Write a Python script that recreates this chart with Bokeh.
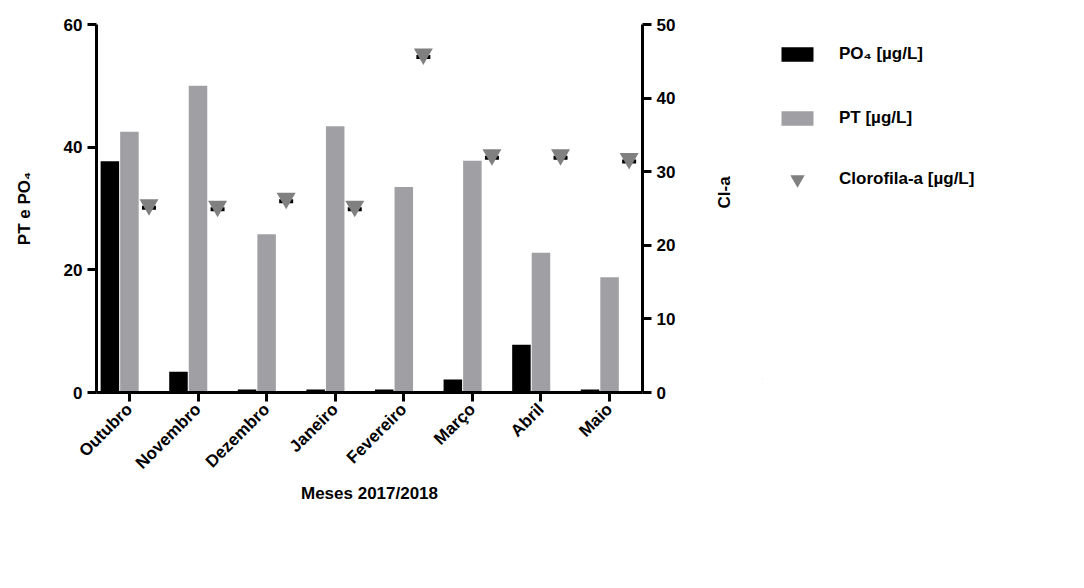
import math
from bokeh.plotting import figure
from bokeh.layouts import row
from bokeh.models import (LinearAxis, Range1d, FixedTicker, Legend, LegendItem,
                          ColumnDataSource, Whisker)
from bokeh.transform import dodge
from bokeh.embed import file_html
from bokeh.resources import INLINE

months = ["Outubro", "Novembro", "Dezembro", "Janeiro", "Fevereiro", "Março", "Abril", "Maio"]
po4 = [37.7, 3.4, 0.5, 0.5, 0.5, 2.1, 7.8, 0.5]
pt = [42.5, 50.0, 25.8, 43.4, 33.5, 37.8, 22.8, 18.8]
cla = [25.5, 25.3, 26.4, 25.3, 46.0, 32.3, 32.3, 31.8]
cla_err = [0.4, 0.4, 0.4, 0.4, 0.4, 0.4, 0.4, 0.4]
left_ticks = [0, 20, 40, 60]
right_ticks = [0, 10, 20, 30, 40, 50]
legend_labels = ["PO₄ [µg/L]", "PT [µg/L]", "Clorofila-a [µg/L]"]

idx = list(range(len(months)))
off = 0.285
src = ColumnDataSource(dict(
    x=idx, po4=po4, pt=pt, cla=cla,
    xc=[i + off for i in idx],
    lo=[c - e for c, e in zip(cla, cla_err)],
    hi=[c + e for c, e in zip(cla, cla_err)],
))

FONT = "Liberation Sans"
BLACK = "#000000"
GRAY_BAR = "#A0A0A4"
GRAY_TRI = "#808080"

p = figure(frame_width=546, frame_height=368,
           x_range=Range1d(-0.48, 7.48), y_range=Range1d(0, 60),
           output_backend="svg", toolbar_location=None,
           min_border_left=96, min_border_top=24, min_border_right=120,
           min_border_bottom=100)
p.extra_y_ranges = {"cl": Range1d(0, 50)}
p.outline_line_color = None
p.grid.visible = False

bw = 0.27
p.vbar(x=dodge("x", -off, range=p.x_range), top="po4", width=bw, source=src,
       fill_color=BLACK, line_color=None)
p.vbar(x="x", top="pt", width=bw, source=src,
       fill_color=GRAY_BAR, line_color=None)
wh = Whisker(base="xc", lower="lo", upper="hi", source=src, y_range_name="cl",
             line_color=BLACK, line_width=3, upper_head=None)
wh.lower_head.line_color = BLACK
wh.lower_head.line_width = 4
wh.lower_head.size = 14
p.add_layout(wh)
p.scatter(x="xc", y="cla", source=src, marker="inverted_triangle", size=19,
          fill_color=GRAY_TRI, line_color=None, y_range_name="cl")


def style_axis(ax):
    ax.axis_line_width = 3
    ax.axis_line_color = BLACK
    ax.major_tick_line_width = 3
    ax.major_tick_line_color = BLACK
    ax.major_tick_out = 9
    ax.major_tick_in = 0
    ax.minor_tick_line_color = None
    ax.major_label_text_font = FONT
    ax.major_label_text_font_style = "bold"
    ax.major_label_text_font_size = "17px"
    ax.major_label_text_color = BLACK
    ax.axis_label_text_font = FONT
    ax.axis_label_text_font_style = "bold"
    ax.axis_label_text_font_size = "17px"
    ax.axis_label_text_color = BLACK


xa = p.xaxis[0]
style_axis(xa)
xa.ticker = FixedTicker(ticks=idx)
xa.major_label_overrides = {i: m for i, m in zip(idx, months)}
xa.major_label_orientation = math.pi / 4
xa.axis_label = "Meses 2017/2018"
xa.axis_label_standoff = 2

ya = p.yaxis[0]
style_axis(ya)
ya.ticker = FixedTicker(ticks=left_ticks)
ya.axis_label = "PT e PO₄"
ya.axis_label_standoff = 27

ra = LinearAxis(y_range_name="cl", ticker=FixedTicker(ticks=right_ticks), axis_label="Cl-a")
style_axis(ra)
ra.axis_label_standoff = 46
try:
    ra.axis_label_orientation = -1.5 * math.pi
except Exception:
    pass
p.add_layout(ra, "right")

# legend panel: a separate figure holding only the legend
p2 = figure(width=300, height=492, x_range=Range1d(0, 1), y_range=Range1d(0, 1),
            output_backend="svg", toolbar_location=None,
            x_axis_type=None, y_axis_type=None,
            min_border_left=0, min_border_right=0, min_border_top=0, min_border_bottom=0)
p2.outline_line_color = None
p2.grid.visible = False
# legend-only renderers, one point each, placed outside the visible range
lr_po4 = p2.vbar(x=[-10], top=[-10], width=0.1, fill_color=BLACK, line_color=None)
lr_pt = p2.vbar(x=[-10], top=[-10], width=0.1, fill_color=GRAY_BAR, line_color=None)
lr_cl = p2.scatter(x=[-10], y=[-10], marker="inverted_triangle", size=19,
                   fill_color=GRAY_TRI, line_color=None)


def style_legend(lg, gh):
    lg.glyph_width = 40
    lg.glyph_height = gh
    lg.label_height = gh
    lg.padding = 0
    lg.margin = 0
    lg.label_standoff = 22
    lg.border_line_color = None
    lg.background_fill_alpha = 0
    lg.label_text_font = FONT
    lg.label_text_font_style = "bold"
    lg.label_text_font_size = "17px"
    lg.label_text_color = BLACK


legend_a = Legend(items=[
    LegendItem(label=legend_labels[0], renderers=[lr_po4]),
    LegendItem(label=legend_labels[1], renderers=[lr_pt]),
], location=(15, 250))
style_legend(legend_a, 18)
legend_a.spacing = 44
p2.add_layout(legend_a, "center")

legend_b = Legend(items=[
    LegendItem(label=legend_labels[2], renderers=[lr_cl]),
], location=(15, 181))
style_legend(legend_b, 36)
p2.add_layout(legend_b, "center")

layout = row(p, p2)
open("out.html", "w").write(file_html(layout, INLINE))
